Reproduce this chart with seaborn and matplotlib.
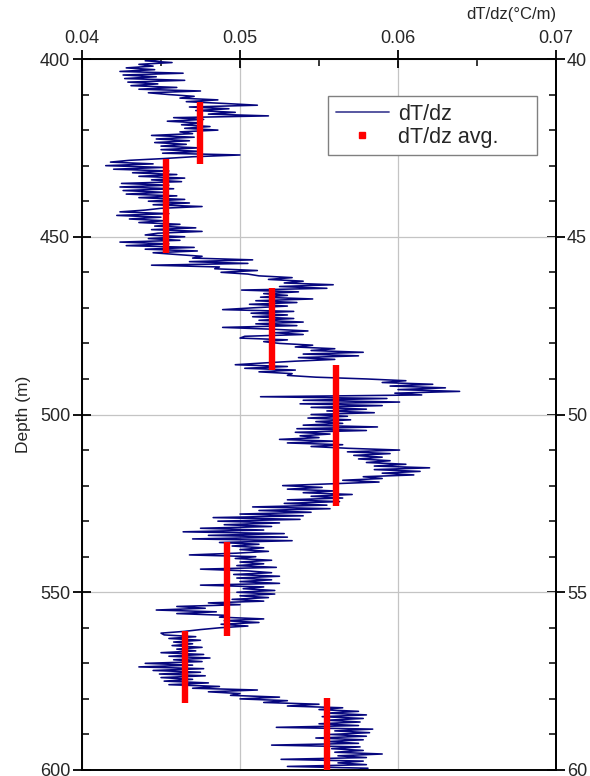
import numpy as np
import pandas as pd
import matplotlib
matplotlib.use("Agg")
import matplotlib.pyplot as plt
import seaborn as sns
from matplotlib.lines import Line2D
from matplotlib.ticker import MultipleLocator

# ---------------- data ----------------
depth_start = 400.0
depth_end = 600.0
depth_step = 0.5

# dT/dz (°C/m) sampled every 0.5 m from 400 m to 600 m (10 values per row = 5 m)
dTdz = [
    0.0452, 0.0440, 0.0457, 0.0436, 0.0445, 0.0428, 0.0446, 0.0424, 0.0464, 0.0426,  # 400
    0.0447, 0.0427, 0.0465, 0.0429, 0.0448, 0.0431, 0.0460, 0.0436, 0.0475, 0.0442,  # 405
    0.0455, 0.0471, 0.0462, 0.0486, 0.0466, 0.0490, 0.0511, 0.0468, 0.0493, 0.0472,  # 410
    0.0497, 0.0480, 0.0518, 0.0458, 0.0477, 0.0454, 0.0476, 0.0463, 0.0481, 0.0465,  # 415
    0.0486, 0.0462, 0.0470, 0.0444, 0.0471, 0.0447, 0.0468, 0.0446, 0.0466, 0.0450,  # 420
    0.0474, 0.0450, 0.0476, 0.0451, 0.0500, 0.0470, 0.0452, 0.0430, 0.0418, 0.0445,  # 425
    0.0415, 0.0452, 0.0420, 0.0455, 0.0432, 0.0460, 0.0436, 0.0465, 0.0444, 0.0463,  # 430
    0.0425, 0.0455, 0.0424, 0.0458, 0.0426, 0.0452, 0.0428, 0.0460, 0.0436, 0.0465,  # 435
    0.0442, 0.0468, 0.0445, 0.0476, 0.0450, 0.0440, 0.0424, 0.0455, 0.0422, 0.0450,  # 440
    0.0430, 0.0452, 0.0436, 0.0462, 0.0446, 0.0472, 0.0444, 0.0476, 0.0448, 0.0440,  # 445
    0.0465, 0.0442, 0.0462, 0.0424, 0.0455, 0.0428, 0.0471, 0.0440, 0.0473, 0.0445,  # 450
    0.0460, 0.0476, 0.0470, 0.0508, 0.0468, 0.0505, 0.0444, 0.0487, 0.0484, 0.0511,  # 455
    0.0488, 0.0505, 0.0512, 0.0533, 0.0518, 0.0540, 0.0528, 0.0559, 0.0525, 0.0555,  # 460
    0.0501, 0.0537, 0.0515, 0.0530, 0.0513, 0.0546, 0.0510, 0.0536, 0.0506, 0.0530,  # 465
    0.0508, 0.0489, 0.0534, 0.0507, 0.0530, 0.0508, 0.0534, 0.0512, 0.0540, 0.0510,  # 470
    0.0536, 0.0489, 0.0520, 0.0543, 0.0522, 0.0540, 0.0503, 0.0500, 0.0530, 0.0515,  # 475
    0.0525, 0.0546, 0.0535, 0.0560, 0.0545, 0.0578, 0.0540, 0.0575, 0.0537, 0.0560,  # 480
    0.0535, 0.0515, 0.0497, 0.0530, 0.0503, 0.0535, 0.0512, 0.0533, 0.0530, 0.0548,  # 485
    0.0580, 0.0605, 0.0590, 0.0622, 0.0595, 0.0630, 0.0600, 0.0639, 0.0598, 0.0615,  # 490
    0.0513, 0.0593, 0.0540, 0.0601, 0.0538, 0.0590, 0.0545, 0.0580, 0.0555, 0.0585,  # 495
    0.0545, 0.0568, 0.0543, 0.0570, 0.0548, 0.0565, 0.0540, 0.0587, 0.0536, 0.0580,  # 500
    0.0535, 0.0557, 0.0538, 0.0550, 0.0525, 0.0560, 0.0530, 0.0565, 0.0545, 0.0568,  # 505
    0.0601, 0.0568, 0.0595, 0.0572, 0.0590, 0.0575, 0.0595, 0.0580, 0.0605, 0.0585,  # 510
    0.0620, 0.0585, 0.0614, 0.0590, 0.0610, 0.0578, 0.0590, 0.0565, 0.0588, 0.0557,  # 515
    0.0527, 0.0552, 0.0530, 0.0560, 0.0540, 0.0571, 0.0545, 0.0565, 0.0530, 0.0563,  # 520
    0.0528, 0.0555, 0.0508, 0.0557, 0.0512, 0.0545, 0.0500, 0.0540, 0.0483, 0.0538,  # 525
    0.0486, 0.0525, 0.0490, 0.0520, 0.0475, 0.0515, 0.0464, 0.0528, 0.0480, 0.0530,  # 530
    0.0470, 0.0533, 0.0487, 0.0512, 0.0495, 0.0515, 0.0500, 0.0518, 0.0498, 0.0468,  # 535
    0.0510, 0.0497, 0.0520, 0.0500, 0.0515, 0.0498, 0.0523, 0.0475, 0.0505, 0.0520,  # 540
    0.0496, 0.0525, 0.0498, 0.0520, 0.0500, 0.0525, 0.0475, 0.0515, 0.0502, 0.0522,  # 545
    0.0498, 0.0522, 0.0500, 0.0518, 0.0495, 0.0515, 0.0480, 0.0500, 0.0460, 0.0478,  # 550
    0.0447, 0.0485, 0.0460, 0.0492, 0.0487, 0.0515, 0.0490, 0.0512, 0.0488, 0.0505,  # 555
    0.0487, 0.0475, 0.0465, 0.0450, 0.0452, 0.0472, 0.0455, 0.0475, 0.0458, 0.0470,  # 560
    0.0457, 0.0476, 0.0460, 0.0472, 0.0450, 0.0477, 0.0455, 0.0481, 0.0458, 0.0476,  # 565
    0.0440, 0.0470, 0.0436, 0.0477, 0.0445, 0.0475, 0.0449, 0.0478, 0.0450, 0.0470,  # 570
    0.0452, 0.0480, 0.0455, 0.0487, 0.0470, 0.0511, 0.0480, 0.0500, 0.0494, 0.0525,  # 575
    0.0500, 0.0530, 0.0515, 0.0550, 0.0530, 0.0565, 0.0550, 0.0575, 0.0555, 0.0580,  # 580
    0.0552, 0.0578, 0.0555, 0.0576, 0.0550, 0.0575, 0.0523, 0.0584, 0.0560, 0.0582,  # 585
    0.0557, 0.0580, 0.0548, 0.0578, 0.0555, 0.0575, 0.0520, 0.0576, 0.0558, 0.0578,  # 590
    0.0560, 0.0590, 0.0562, 0.0580, 0.0526, 0.0578, 0.0562, 0.0580, 0.0530, 0.0581,  # 595
    0.0575,                                                                          # 600
]

# interval averages of dT/dz
avg_value = [0.0475, 0.0453, 0.0520, 0.0561, 0.0492, 0.0465, 0.0555]
avg_top = [412.0, 428.0, 464.3, 486.0, 536.0, 561.0, 579.8]
avg_bottom = [429.5, 454.5, 487.4, 525.6, 562.4, 581.2, 600.0]

x_ticks = [0.04, 0.05, 0.06, 0.07]
x_tick_labels = ["0.04", "0.05", "0.06", "0.07"]
depth_ticks = [400, 450, 500, 550, 600]
right_ticks = [40, 45, 50, 55, 60]

line_label = "dT/dz"
avg_label = "dT/dz avg."
x_title = "dT/dz(°C/m)"
y_title = "Depth (m)"

# ---------------- plot ----------------
sns.set_theme(style="white")
plt.rcParams["font.family"] = ["Liberation Sans", "DejaVu Sans"]

depth = np.arange(depth_start, depth_end + depth_step / 2, depth_step)
df = pd.DataFrame({"depth": depth, "dTdz": dTdz})

navy = "#06067e"
red = "#ff0000"

fig = plt.figure(figsize=(5.9, 7.76), dpi=100)
ax = fig.add_axes([82 / 590, 1 - 770 / 776, (556 - 82) / 590, (770 - 59) / 776])

sns.lineplot(data=df, x="dTdz", y="depth", sort=False, estimator=None,
             color=navy, lw=1.15, ax=ax, legend=False)
ax.vlines(avg_value, avg_top, avg_bottom, colors=red, lw=4.6, zorder=5)

ax.set_xlim(0.04, 0.07)
ax.set_ylim(600, 400)

ax.set_axisbelow(True)
ax.grid(True, which="major", color="#c4c4c4", lw=0.9)

ax.xaxis.tick_top()
ax.xaxis.set_label_position("top")
ax.set_xticks(x_ticks)
ax.set_xticklabels(x_tick_labels)
ax.xaxis.set_minor_locator(MultipleLocator(0.005))
ax.set_yticks(depth_ticks)
ax.yaxis.set_minor_locator(MultipleLocator(10))

ax.set_xlabel(x_title, fontsize=12, loc="right", labelpad=8)
ax.set_ylabel(y_title, fontsize=12.5, labelpad=6)

ax.tick_params(axis="both", which="major", direction="inout", length=13, width=1.3,
               color="black", labelsize=13, pad=2)
ax.tick_params(axis="both", which="minor", direction="in", length=5, width=1.1, color="black")
ax.tick_params(axis="x", which="both", top=True, bottom=False)
ax.tick_params(axis="y", which="both", left=True, right=False)

for side in ["top", "bottom", "left", "right"]:
    ax.spines[side].set_visible(True)
    ax.spines[side].set_color("black")
    ax.spines[side].set_linewidth(1.4)

sec = ax.secondary_yaxis("right", functions=(lambda d: d / 10.0, lambda t: t * 10.0))
sec.set_yticks(right_ticks)
sec.yaxis.set_minor_locator(MultipleLocator(1))
sec.tick_params(axis="y", which="major", direction="inout", length=13, width=1.3,
                color="black", labelsize=13, pad=1.5)
sec.tick_params(axis="y", which="minor", direction="in", length=5, width=1.1, color="black")
sec.spines["right"].set_linewidth(1.4)

handles = [
    Line2D([], [], color="#4a4a9a", lw=1.3),
    Line2D([], [], ls="none", marker="s", color=red, markersize=5),
]
leg = ax.legend(handles, [line_label, avg_label], loc="upper left",
                bbox_to_anchor=(0.519, 0.859, 0.441, 0.089), mode="expand",
                fontsize=15.5, frameon=True,
                fancybox=False, framealpha=1, edgecolor="#808080",
                borderpad=0.35, handlelength=2.5, handletextpad=0.4,
                labelspacing=0.1, borderaxespad=0)
leg.get_frame().set_linewidth(1.0)

fig.savefig("out.png", dpi=100)
